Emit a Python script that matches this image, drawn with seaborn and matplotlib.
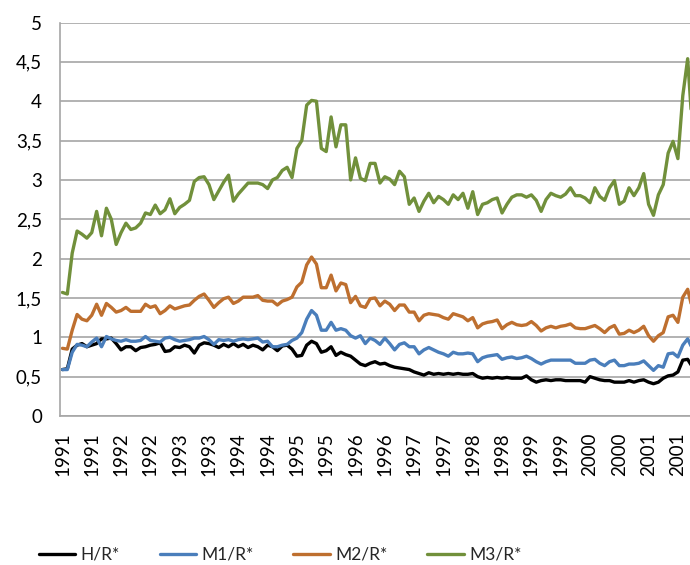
import matplotlib
matplotlib.use("Agg")
import matplotlib.pyplot as plt
import seaborn as sns
import pandas as pd

# ratios, one value per month (Jan 1991 onwards)
h_r = [0.59, 0.60, 0.85, 0.90, 0.92, 0.88, 0.90, 0.92, 0.98, 0.98,
       0.99, 0.92, 0.84, 0.88, 0.88, 0.83, 0.87, 0.88, 0.90, 0.91,
       0.93, 0.82, 0.83, 0.88, 0.87, 0.90, 0.88, 0.80, 0.90, 0.93,
       0.92, 0.90, 0.87, 0.91, 0.88, 0.92, 0.88, 0.91, 0.87, 0.90,
       0.88, 0.84, 0.90, 0.88, 0.83, 0.89, 0.90, 0.85, 0.76, 0.77,
       0.90, 0.95, 0.92, 0.81, 0.83, 0.88, 0.77, 0.81, 0.78, 0.76,
       0.71, 0.66, 0.64, 0.67, 0.69, 0.66, 0.67, 0.64, 0.62, 0.61,
       0.60, 0.59, 0.56, 0.54, 0.52, 0.55, 0.53, 0.54, 0.53, 0.54,
       0.53, 0.54, 0.53, 0.53, 0.54, 0.50, 0.48, 0.49, 0.48, 0.49,
       0.48, 0.49, 0.48, 0.48, 0.48, 0.51, 0.46, 0.43, 0.45, 0.46,
       0.45, 0.46, 0.46, 0.45, 0.45, 0.45, 0.45, 0.43, 0.50, 0.48,
       0.46, 0.45, 0.45, 0.43, 0.43, 0.43, 0.45, 0.43, 0.45, 0.46,
       0.43, 0.41, 0.43, 0.48, 0.51, 0.52, 0.56, 0.71, 0.72, 0.62]

m1_r = [0.59, 0.59, 0.81, 0.91, 0.90, 0.88, 0.94, 0.99, 0.88, 1.01,
        0.98, 0.96, 0.95, 0.97, 0.95, 0.95, 0.96, 1.01, 0.96, 0.95,
        0.94, 0.99, 1.00, 0.97, 0.95, 0.96, 0.97, 0.99, 0.99, 1.01,
        0.97, 0.91, 0.97, 0.96, 0.97, 0.95, 0.97, 0.98, 0.97, 0.98,
        0.99, 0.94, 0.95, 0.88, 0.88, 0.90, 0.91, 0.96, 0.99, 1.06,
        1.23, 1.34, 1.28, 1.09, 1.09, 1.19, 1.09, 1.11, 1.09, 1.02,
        0.99, 1.02, 0.92, 0.99, 0.96, 0.91, 0.99, 0.92, 0.84, 0.91,
        0.93, 0.88, 0.88, 0.79, 0.84, 0.87, 0.84, 0.81, 0.79, 0.76,
        0.81, 0.79, 0.79, 0.80, 0.79, 0.69, 0.74, 0.76, 0.77, 0.78,
        0.72, 0.74, 0.75, 0.73, 0.74, 0.76, 0.73, 0.69, 0.66, 0.69,
        0.71, 0.71, 0.71, 0.71, 0.71, 0.67, 0.67, 0.67, 0.71, 0.72,
        0.67, 0.64, 0.69, 0.71, 0.64, 0.64, 0.66, 0.66, 0.67, 0.70,
        0.64, 0.58, 0.64, 0.62, 0.79, 0.80, 0.75, 0.90, 0.98, 0.85]

m2_r = [0.86, 0.85, 1.09, 1.29, 1.23, 1.21, 1.28, 1.42, 1.28, 1.43,
        1.38, 1.32, 1.34, 1.38, 1.33, 1.33, 1.33, 1.42, 1.38, 1.40,
        1.30, 1.34, 1.40, 1.36, 1.38, 1.40, 1.41, 1.47, 1.52, 1.55,
        1.47, 1.38, 1.44, 1.49, 1.51, 1.43, 1.46, 1.51, 1.51, 1.51,
        1.53, 1.47, 1.46, 1.46, 1.41, 1.46, 1.48, 1.51, 1.64, 1.70,
        1.92, 2.02, 1.93, 1.63, 1.63, 1.79, 1.59, 1.69, 1.67, 1.44,
        1.52, 1.40, 1.38, 1.49, 1.50, 1.40, 1.46, 1.42, 1.34, 1.41,
        1.41, 1.32, 1.32, 1.21, 1.28, 1.30, 1.29, 1.28, 1.25, 1.23,
        1.30, 1.28, 1.26, 1.21, 1.25, 1.12, 1.17, 1.19, 1.20, 1.22,
        1.11, 1.16, 1.19, 1.16, 1.15, 1.16, 1.20, 1.15, 1.08, 1.12,
        1.14, 1.12, 1.14, 1.15, 1.17, 1.12, 1.11, 1.11, 1.13, 1.15,
        1.11, 1.06, 1.12, 1.15, 1.04, 1.05, 1.09, 1.06, 1.09, 1.14,
        1.02, 0.95, 1.02, 1.06, 1.26, 1.28, 1.19, 1.51, 1.61, 1.35]

m3_r = [1.57, 1.55, 2.07, 2.35, 2.31, 2.26, 2.33, 2.60, 2.29, 2.64,
        2.50, 2.18, 2.33, 2.45, 2.37, 2.39, 2.45, 2.58, 2.56, 2.68,
        2.57, 2.62, 2.76, 2.57, 2.65, 2.69, 2.74, 2.98, 3.03, 3.04,
        2.94, 2.75, 2.86, 2.97, 3.06, 2.73, 2.82, 2.89, 2.96, 2.96,
        2.96, 2.94, 2.89, 3.00, 3.03, 3.12, 3.16, 3.03, 3.40, 3.50,
        3.95, 4.01, 4.00, 3.40, 3.36, 3.80, 3.42, 3.70, 3.70, 3.00,
        3.28, 3.02, 2.99, 3.21, 3.21, 2.96, 3.04, 3.01, 2.94, 3.11,
        3.04, 2.69, 2.77, 2.60, 2.73, 2.83, 2.71, 2.79, 2.75, 2.69,
        2.81, 2.75, 2.83, 2.64, 2.85, 2.56, 2.69, 2.71, 2.75, 2.77,
        2.58, 2.69, 2.78, 2.81, 2.81, 2.78, 2.81, 2.74, 2.60, 2.75,
        2.83, 2.80, 2.78, 2.82, 2.90, 2.80, 2.80, 2.77, 2.71, 2.90,
        2.79, 2.74, 2.90, 2.99, 2.69, 2.73, 2.90, 2.80, 2.90, 3.08,
        2.69, 2.55, 2.81, 2.94, 3.34, 3.49, 3.27, 4.07, 4.54, 3.60]

series_names = ["H/R*", "M1/R*", "M2/R*", "M3/R*"]
series_colors = ["#000000", "#4A7EBB", "#BE6F2F", "#71903B"]

# one label every six months
tick_labels = ["1991", "1991", "1992", "1992", "1993", "1993", "1994", "1994",
               "1995", "1995", "1996", "1996", "1997", "1997", "1998", "1998",
               "1999", "1999", "2000", "2000", "2001", "2001"]

n = len(h_r)
df = pd.DataFrame({
    "month": list(range(n)) * 4,
    "value": h_r + m1_r + m2_r + m3_r,
    "series": [s for s in series_names for _ in range(n)],
})

sns.set_style("white")
plt.rcParams["font.family"] = ["Lato", "DejaVu Sans"]

fig = plt.figure(figsize=(6.9, 5.65), dpi=100)
# axes run past the right edge, as in the cropped original
ax = fig.add_axes([60 / 690, 149 / 565, 635 / 690, 393.5 / 565])

sns.lineplot(data=df, x="month", y="value", hue="series", hue_order=series_names,
             palette=dict(zip(series_names, series_colors)), linewidth=2.4,
             sort=False, ax=ax)

handles, labels = ax.get_legend_handles_labels()
ax.get_legend().remove()

ax.set_xlim(-0.5, n - 0.5)
ax.set_ylim(0, 5)
ax.set_yticks([i * 0.5 for i in range(11)])
ax.set_yticklabels([("%g" % (i * 0.5)).replace(".", ",") for i in range(11)])
ax.set_xticks(list(range(0, 6 * len(tick_labels), 6)))
ax.set_xticklabels(tick_labels, rotation=90)
ax.tick_params(axis="both", length=0, labelsize=13.5, colors="black")
ax.tick_params(axis="y", pad=13)
ax.tick_params(axis="x", pad=12)
ax.set_xlabel("")
ax.set_ylabel("")

ax.yaxis.grid(True, color="#A6A6A6", linewidth=1.2)
ax.set_axisbelow(True)
for side in ["top", "right"]:
    ax.spines[side].set_visible(False)
for side in ["left", "bottom"]:
    ax.spines[side].set_color("#A6A6A6")
    ax.spines[side].set_linewidth(1.2)

fig.legend(handles, labels, loc="center left", bbox_to_anchor=(30 / 690, 10 / 565),
           ncol=4, frameon=False, fontsize=12.5, handlelength=2.1,
           handletextpad=0.3, columnspacing=2.3, borderpad=0)

fig.savefig("out.png", dpi=100)
